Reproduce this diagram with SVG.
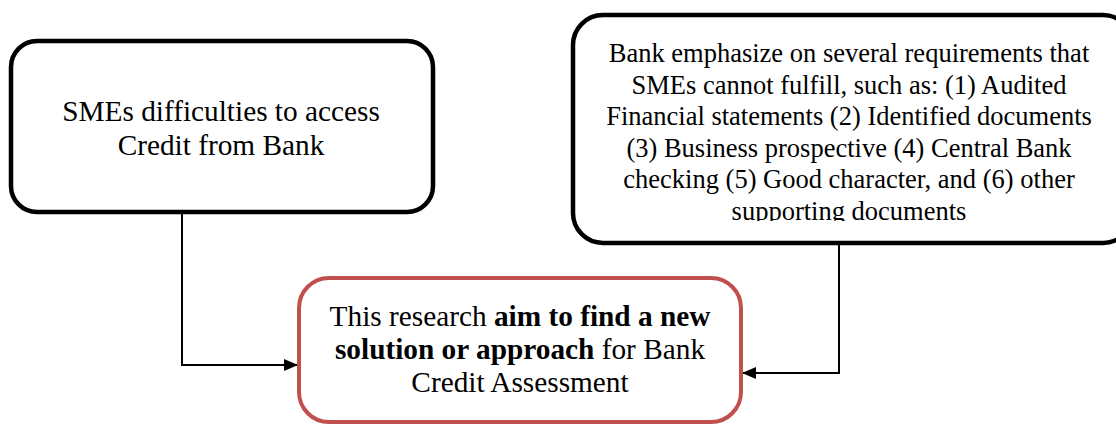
<svg xmlns="http://www.w3.org/2000/svg" width="1116" height="424" viewBox="0 0 1116 424">
  <style>
    .box { fill: #ffffff; stroke: #000000; stroke-width: 4.5; }
    .red { fill: #ffffff; stroke: #C0504D; stroke-width: 4; }
    .t { font-family: "Liberation Serif", "Times New Roman", serif; fill: #000000; text-anchor: middle; }
    .conn { fill: none; stroke: #000000; stroke-width: 2; }
  </style>
  <defs>
    <marker id="arrow" markerWidth="14" markerHeight="12" refX="14" refY="6" orient="auto" markerUnits="userSpaceOnUse">
      <path d="M0,0 L14,6 L0,12 Z" fill="#000000"/>
    </marker>
    <clipPath id="clipR">
      <rect x="560" y="0" width="560" height="221"/>
    </clipPath>
  </defs>
  <rect width="1116" height="424" fill="#ffffff"/>

  <g id="connectors">
    <path class="conn" d="M182,212 V365 H298" marker-end="url(#arrow)"/>
    <path class="conn" d="M839,243 V373 H742" marker-end="url(#arrow)"/>
  </g>

  <g id="node-smes">
    <rect class="box" x="11" y="41" width="422" height="171" rx="26" ry="26"/>
    <text class="t" font-size="29.3" x="221" y="121">SMEs difficulties to access</text>
    <text class="t" font-size="29.3" x="221" y="155">Credit from Bank</text>
  </g>

  <g id="node-bank">
    <rect class="box" x="573" y="15" width="560" height="228" rx="30" ry="30"/>
    <g clip-path="url(#clipR)">
      <text class="t" font-size="26.5" x="849" y="62">Bank emphasize on several requirements that</text>
      <text class="t" font-size="26.5" x="849" y="93.5">SMEs cannot fulfill, such as: (1) Audited</text>
      <text class="t" font-size="26.5" x="849" y="125">Financial statements (2) Identified documents</text>
      <text class="t" font-size="26.5" x="849" y="156.5">(3) Business prospective (4) Central Bank</text>
      <text class="t" font-size="26.5" x="849" y="188">checking (5) Good character, and (6) other</text>
      <text class="t" font-size="26.5" x="849" y="219.5">supporting documents</text>
    </g>
  </g>

  <g id="node-research">
    <rect class="red" x="299" y="278" width="442" height="144" rx="30" ry="30"/>
    <text class="t" font-size="29.3" x="520" y="326">This research <tspan font-weight="bold">aim to find a new</tspan></text>
    <text class="t" font-size="29.3" x="520" y="359"><tspan font-weight="bold">solution or approach</tspan> for Bank</text>
    <text class="t" font-size="29.3" x="520" y="392">Credit Assessment</text>
  </g>
</svg>
